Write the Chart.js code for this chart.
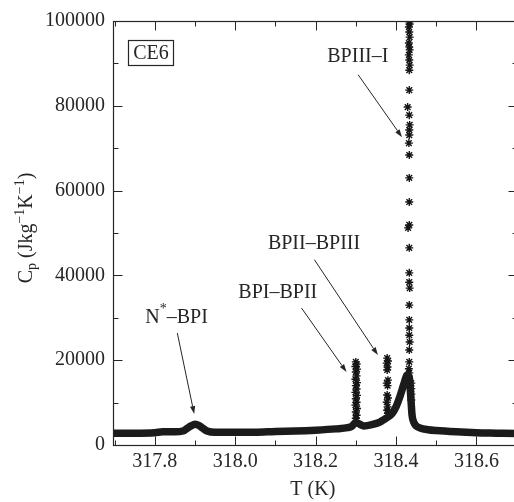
<!DOCTYPE html>
<html>
<head>
<meta charset="utf-8">
<script src="https://cdn.jsdelivr.net/npm/chart.js@4.4.1/dist/chart.umd.min.js"></script>
<style>
  html, body { margin: 0; padding: 0; background: #fff; overflow: hidden; }
  canvas { display: block; }
</style>
</head>
<body>
<canvas id="cpChart" width="522" height="502"></canvas>
<script>
// Heat capacity of CE6 around the blue phase transitions
const xTicks = [317.8, 318.0, 318.2, 318.4, 318.6];
const xMinorTicks = [317.7, 317.9, 318.1, 318.3, 318.5, 318.7];
const yTicks = [0, 20000, 40000, 60000, 80000, 100000];
const yMinorTicks = [10000, 30000, 50000, 70000, 90000];

// continuous background curve (dense run of points)
const bandT = [317.696, 317.75, 317.80, 317.82, 317.85, 317.87, 317.88, 317.89, 317.90, 317.91, 317.92, 317.93,
  317.95, 318.00, 318.05, 318.10, 318.15, 318.20, 318.25, 318.28, 318.29, 318.30, 318.31, 318.32,
  318.34, 318.36, 318.37, 318.38, 318.39, 318.40, 318.41, 318.42, 318.428, 318.433, 318.437, 318.44,
  318.445, 318.45, 318.46, 318.48, 318.50, 318.55, 318.60, 318.65, 318.70];
const bandCp = [2800, 2800, 2900, 3100, 3100, 3300, 3900, 4500, 4900, 4600, 3900, 3300,
  3000, 3000, 3000, 3200, 3300, 3500, 3800, 4100, 4400, 5300, 4900, 4500,
  4800, 5400, 6000, 6600, 7400, 9000, 11500, 14500, 16500, 16000, 11000, 7000,
  5200, 4500, 4000, 3600, 3400, 3100, 2900, 2800, 2700];

// BPI-BPII column
const bp1T = [318.300, 318.302, 318.299, 318.303, 318.300, 318.302, 318.299, 318.303, 318.300, 318.302,
  318.299, 318.303, 318.300, 318.302, 318.299, 318.303, 318.300, 318.302, 318.300];
const bp1Cp = [19600, 19100, 18500, 17900, 17200, 16300, 15500, 14700, 14000, 13200,
  12400, 11700, 10900, 10100, 9400, 8600, 7800, 7000, 6300];

// BPII-BPIII column
const bp2T = [318.378, 318.380, 318.377, 318.379, 318.378, 318.380, 318.377, 318.379, 318.378, 318.380,
  318.377, 318.379, 318.378, 318.380];
const bp2Cp = [20500, 19800, 19300, 18400, 17700, 15300, 14600, 14000, 11800, 11100,
  10100, 9000, 8200, 7500];

// BPIII-I column
const bp3T = [318.433, 318.434, 318.432, 318.433, 318.434, 318.432, 318.433, 318.434, 318.432, 318.433,
  318.434, 318.433, 318.433, 318.429, 318.433, 318.434, 318.433, 318.433, 318.432, 318.433,
  318.433, 318.433, 318.433, 318.430, 318.433, 318.433, 318.433, 318.434, 318.433, 318.433,
  318.433, 318.433, 318.434, 318.433, 318.433, 318.432, 318.433,
  318.438, 318.438, 318.438, 318.438];
const bp3Cp = [99800, 99300, 98600, 97400, 96200, 94800, 93900, 93200, 92000, 90800,
  89600, 88400, 83700, 79700, 77800, 75500, 74300, 73100, 71200, 68400,
  63000, 57300, 51900, 51200, 46500, 40600, 38400, 37000, 33000, 29500,
  27600, 25900, 24300, 22400, 19600, 18000, 17000,
  14600, 13300, 12000, 10600];

const zip = (xs, ys) => xs.map((x, i) => ({ x: x, y: ys[i] }));

const serif = '"Liberation Serif", "DejaVu Serif", serif';
const inkColor = '#262626';

// labels and arrows, positioned in data units
const notes = [
  { parts: [['BPIII\u2013I', 0]], x: 318.305, y: 91500, from: [318.306, 87300], to: [318.415, 72600] },
  { parts: [['BPII\u2013BPIII', 0]], x: 318.196, y: 47400, from: [318.197, 43700], to: [318.355, 21200] },
  { parts: [['BPI\u2013BPII', 0]], x: 318.106, y: 36000, from: [318.165, 32300], to: [318.277, 17200] },
  { parts: [['N', 0], ['*', -1], ['\u2013BPI', 0]], x: 317.854, y: 30100, from: [317.856, 26400], to: [317.898, 7300] }
];

function drawParts(ctx, parts, size, cx, cy) {
  // parts: [text, shift] with shift -1 superscript, 1 subscript
  const widths = parts.map(([t, s]) => {
    ctx.font = (s ? Math.round(size * 0.68) : size) + 'px ' + serif;
    return ctx.measureText(t).width;
  });
  const total = widths.reduce((a, b) => a + b, 0);
  let x = cx - total / 2;
  parts.forEach(([t, s], i) => {
    ctx.font = (s ? Math.round(size * 0.68) : size) + 'px ' + serif;
    const dy = s === -1 ? -size * 0.42 : (s === 1 ? size * 0.22 : 0);
    ctx.fillText(t, x, cy + dy);
    x += widths[i];
  });
}

function arrow(ctx, x1, y1, x2, y2) {
  const ang = Math.atan2(y2 - y1, x2 - x1);
  const head = 8, half = 2.6;
  ctx.beginPath();
  ctx.moveTo(x1, y1);
  ctx.lineTo(x2 - Math.cos(ang) * head, y2 - Math.sin(ang) * head);
  ctx.stroke();
  ctx.beginPath();
  ctx.moveTo(x2, y2);
  ctx.lineTo(x2 - Math.cos(ang) * head - Math.sin(ang) * half, y2 - Math.sin(ang) * head + Math.cos(ang) * half);
  ctx.lineTo(x2 - Math.cos(ang) * head + Math.sin(ang) * half, y2 - Math.sin(ang) * head - Math.cos(ang) * half);
  ctx.closePath();
  ctx.fill();
}

const framePlugin = {
  id: 'frame',
  afterDraw(chart) {
    const ctx = chart.ctx;
    const a = chart.chartArea;
    const sx = chart.scales.x, sy = chart.scales.y;
    const L = Math.round(a.left) + 0.5, R = Math.round(a.right) + 0.5;
    const T = Math.round(a.top) + 0.5, B = Math.round(a.bottom) + 0.5;
    ctx.save();
    ctx.strokeStyle = inkColor;
    ctx.fillStyle = inkColor;
    ctx.lineWidth = 1.2;
    ctx.strokeRect(L, T, R - L, B - T);

    // inward ticks on all four sides
    ctx.lineWidth = 1;
    ctx.beginPath();
    const xt = (v, len) => {
      const px = Math.round(sx.getPixelForValue(v)) + 0.5;
      ctx.moveTo(px, B); ctx.lineTo(px, B - len);
      ctx.moveTo(px, T); ctx.lineTo(px, T + len);
    };
    const yt = (v, len) => {
      const py = Math.round(sy.getPixelForValue(v)) + 0.5;
      ctx.moveTo(L, py); ctx.lineTo(L + len, py);
      ctx.moveTo(R, py); ctx.lineTo(R - len, py);
    };
    xTicks.forEach(v => xt(v, 9));
    xMinorTicks.forEach(v => xt(v, 5));
    yTicks.forEach(v => yt(v, 9));
    yMinorTicks.forEach(v => yt(v, 5));
    ctx.stroke();

    // sample tag
    ctx.lineWidth = 1.2;
    ctx.strokeRect(128.5, 40.5, 45, 25);
    ctx.font = '20px ' + serif;
    ctx.textAlign = 'center';
    ctx.textBaseline = 'middle';
    ctx.fillText('CE6', 151, 54);

    // transition labels
    ctx.textAlign = 'left';
    notes.forEach(n => {
      drawParts(ctx, n.parts, 20, sx.getPixelForValue(n.x), sy.getPixelForValue(n.y));
      ctx.lineWidth = 1;
      arrow(ctx, sx.getPixelForValue(n.from[0]), sy.getPixelForValue(n.from[1]),
        sx.getPixelForValue(n.to[0]), sy.getPixelForValue(n.to[1]));
    });

    // axis titles
    ctx.textBaseline = 'alphabetic';
    ctx.textAlign = 'center';
    ctx.font = '20px ' + serif;
    ctx.fillText('T (K)', (a.left + a.right) / 2 - 2, 495);

    ctx.translate(32, 228);
    ctx.rotate(-Math.PI / 2);
    ctx.textAlign = 'left';
    drawParts(ctx, [['C', 0], ['p', 1], [' (Jkg', 0], ['\u22121', -1], ['K', 0], ['\u22121', -1], [')', 0]], 20, 0, 0);
    ctx.restore();
  }
};

const ctx = document.getElementById('cpChart').getContext('2d');

const cpChart = new Chart(ctx, {
  type: 'scatter',
  data: {
    datasets: [{
      data: zip(bandT, bandCp),
      showLine: true,
      borderColor: '#1b1b1b',
      borderWidth: 7.5,
      cubicInterpolationMode: 'monotone',
      pointRadius: 0
    }, {
      data: zip(bp1T, bp1Cp).concat(zip(bp2T, bp2Cp), zip(bp3T, bp3Cp)),
      showLine: false,
      pointStyle: 'star',
      pointRadius: 4,
      borderColor: '#151515',
      backgroundColor: '#151515',
      pointBorderWidth: 1.4
    }]
  },
  options: {
    responsive: false,
    animation: false,
    layout: { padding: { top: 21, right: 3, left: 0, bottom: 0 } },
    plugins: { legend: { display: false }, tooltip: { enabled: false } },
    scales: {
      x: {
        type: 'linear',
        min: 317.696,
        max: 318.7,
        afterBuildTicks: s => { s.ticks = xTicks.map(v => ({ value: v })); },
        afterFit: s => { s.height = 57; },
        grid: { display: false, drawTicks: false },
        border: { display: false },
        ticks: {
          font: { family: serif, size: 20 },
          color: inkColor,
          padding: 5,
          maxRotation: 0,
          callback: v => v.toFixed(1)
        }
      },
      y: {
        min: 0,
        max: 100000,
        afterBuildTicks: s => { s.ticks = yTicks.map(v => ({ value: v })); },
        afterFit: s => { s.width = 113; },
        grid: { display: false, drawTicks: false },
        border: { display: false },
        ticks: {
          font: { family: serif, size: 20 },
          color: inkColor,
          padding: 8,
          callback: v => String(v)
        }
      }
    }
  },
  plugins: [framePlugin]
});
</script>
</body>
</html>
